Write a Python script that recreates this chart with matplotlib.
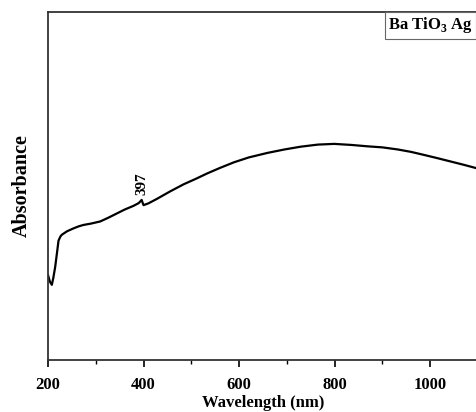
import numpy as np
import matplotlib
matplotlib.use('Agg')
import matplotlib.pyplot as plt

# values (absorbance in arbitrary units)
wavelength = [200, 204, 208, 211, 215, 219, 222, 226, 229, 240, 253, 264, 274, 290, 309,
              325, 344, 360, 379, 390, 396, 398, 400, 410, 428, 455, 484, 510, 533, 560,
              589, 620, 659, 695, 729, 765, 799, 835, 869, 900, 932, 960, 988, 1015, 1044,
              1070, 1100]
absorbance = [0.244, 0.225, 0.216, 0.235, 0.267, 0.310, 0.343, 0.355, 0.360, 0.370, 0.378,
              0.384, 0.388, 0.392, 0.398, 0.408, 0.421, 0.432, 0.443, 0.451, 0.460, 0.452,
              0.445, 0.450, 0.463, 0.484, 0.505, 0.521, 0.536, 0.552, 0.568, 0.582, 0.595,
              0.605, 0.613, 0.619, 0.621, 0.618, 0.614, 0.611, 0.605, 0.598, 0.589, 0.580,
              0.570, 0.561, 0.550]
peak_nm = 397
label_text = 'Ba TiO$_\\mathbf{3}$ Ag'

plt.rcParams['font.family'] = ['Liberation Serif', 'DejaVu Serif']
plt.rcParams['mathtext.fontset'] = 'custom'
plt.rcParams['mathtext.rm'] = 'Liberation Serif'
plt.rcParams['mathtext.bf'] = 'Liberation Serif:bold'

fig = plt.figure(figsize=(4.76, 4.12), dpi=100)
ax = fig.add_axes([48/476, 52/412, 430/476, 348/412])

ax.plot(wavelength, absorbance, color='black', lw=1.6)

ax.set_xlim(200, 1100)
ax.set_ylim(0, 1)
ax.set_xticks([200, 400, 600, 800, 1000])
ax.set_xticks([300, 500, 700, 900], minor=True)
ax.set_yticks([])
ax.tick_params(axis='x', which='major', direction='out', length=5, width=1.2,
               labelsize=12, pad=7)
ax.tick_params(axis='x', which='minor', direction='out', length=3, width=1.0)
for lbl in ax.get_xticklabels():
    lbl.set_fontweight('bold')

for s in ['left', 'bottom', 'top']:
    ax.spines[s].set_linewidth(1.3)
    ax.spines[s].set_color('#333333')
ax.spines['right'].set_visible(False)

ax.set_xlabel('Wavelength (nm)', fontsize=12, fontweight='bold', labelpad=2)
ax.set_ylabel('Absorbance', fontsize=14.5, fontweight='bold', labelpad=12)

ax.text(peak_nm, 0.474, str(peak_nm), rotation=90, ha='center', va='bottom',
        fontsize=11, fontweight='bold')

ax.text((388 - 48) / 430, 0.99, label_text, transform=ax.transAxes, ha='left', va='top',
        fontsize=12, fontweight='bold',
        bbox=dict(boxstyle='square,pad=0.2', fc='white', ec='#666666', lw=0.8))

fig.savefig('out.png', dpi=100)
